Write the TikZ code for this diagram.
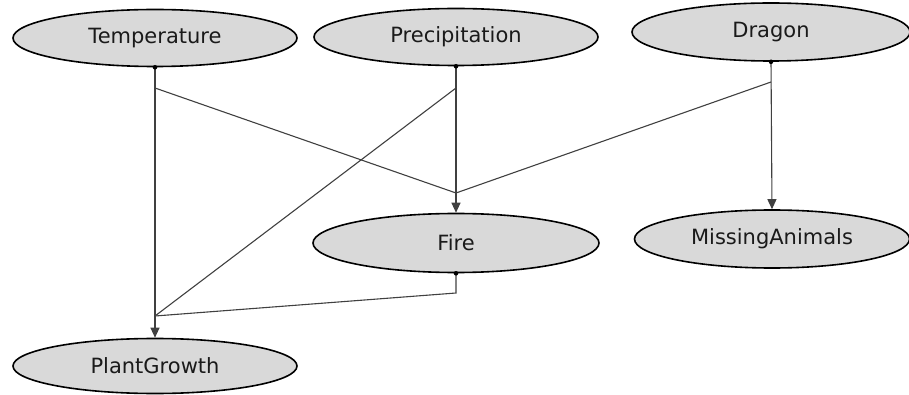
\documentclass[tikz,border=0pt]{standalone}
\usepackage{fontspec}
\setmainfont{DejaVu Sans}
\usetikzlibrary{shapes.geometric,arrows.meta}
\definecolor{nodefill}{HTML}{D9D9D9}
\definecolor{edgecol}{HTML}{404040}
\definecolor{txtcol}{HTML}{1A1A1A}
\begin{document}
\begin{tikzpicture}[x=1pt,y=-1pt,
  var/.style={ellipse,draw=black,line width=1.6pt,fill=nodefill,inner sep=0pt,
    text=txtcol,font=\fontsize{21}{24}\selectfont},
  edge/.style={draw=edgecol,line width=1.1pt},
  arr/.style={-{Triangle[length=10pt,width=9pt]}},
  dot/.style={fill=black}]
\useasboundingbox (0,0) rectangle (909,395);
\node[var,minimum width=284pt,minimum height=57pt] (T) at (155,38) {Temperature};
\node[var,minimum width=284pt,minimum height=57pt] (P) at (456,37) {Precipitation};
\node[var,minimum width=278pt,minimum height=58pt] (D) at (771,32) {Dragon};
\node[var,minimum width=286pt,minimum height=59pt] (F) at (456,243) {Fire};
\node[var,minimum width=275pt,minimum height=58pt] (M) at (772,239) {MissingAnimals};
\node[var,minimum width=284pt,minimum height=55pt] (G) at (155,366) {PlantGrowth};
\coordinate (tb) at (155,88);
\coordinate (pb) at (456,88);
\coordinate (db) at (771,82);
\coordinate (fj) at (456,193);
\coordinate (gj) at (155,316);
\coordinate (fb) at (456,293);
\draw[edge,arr] (T.south) -- (G.north);
\draw[edge] (tb) -- (fj);
\draw[edge,arr] (P.south) -- (F.north);
\draw[edge] (pb) -- (gj);
\draw[edge,arr] (D.south) -- (M.north);
\draw[edge] (db) -- (fj);
\draw[edge] (F.south) -- (fb) -- (gj);
\foreach \n in {T,P,D,F} \fill[dot] (\n.south) circle (2.3pt);
\end{tikzpicture}
\end{document}
